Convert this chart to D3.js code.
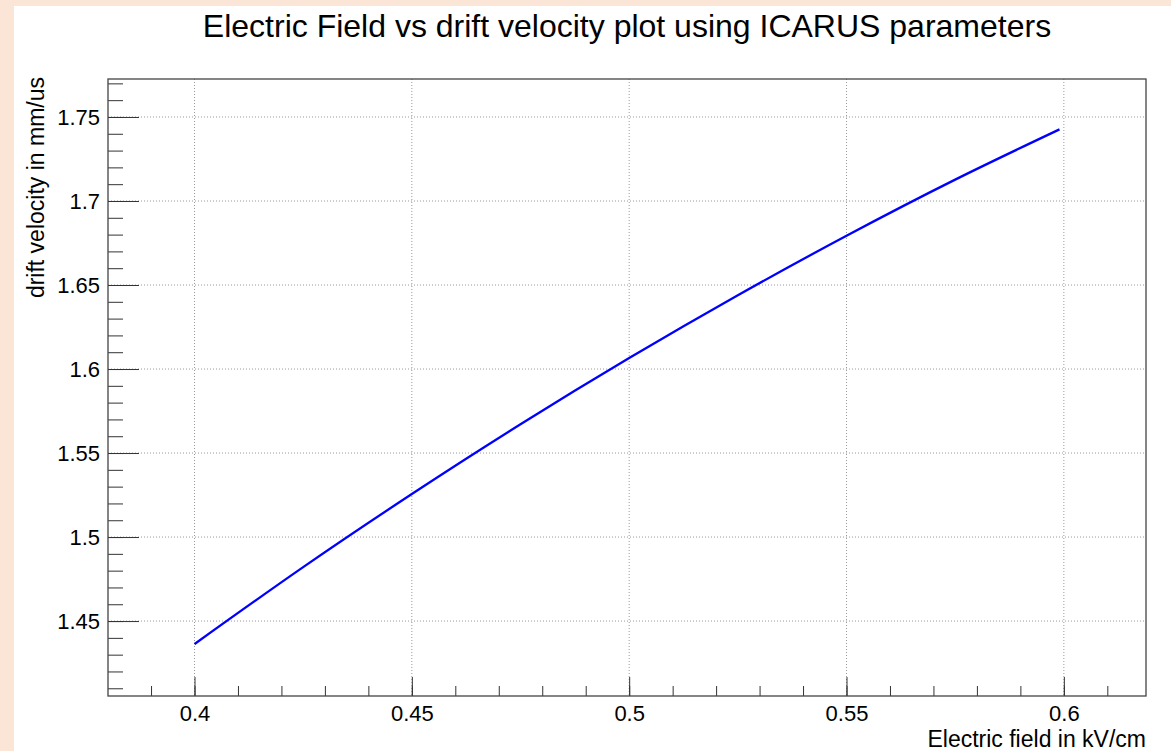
<!DOCTYPE html>
<html>
<head>
<meta charset="utf-8">
<script src="https://cdn.jsdelivr.net/npm/d3@7"></script>
<style>
  body { margin: 0; background: #fbe5d6; }
  svg { display: block; font-family: "Liberation Sans", Arial, sans-serif; }
</style>
</head>
<body>
<svg width="1171" height="751"></svg>
<script>
// Data (E field in kV/cm, drift velocity in mm/us)
const fieldValues = [0.400, 0.425, 0.450, 0.475, 0.500, 0.525, 0.550, 0.575, 0.599];
const velocityValues = [1.4363, 1.4821, 1.5256, 1.5671, 1.6065, 1.6439, 1.6793, 1.7127, 1.7426];

const xMajorTicks = [0.4, 0.45, 0.5, 0.55, 0.6];
const yMajorTicks = [1.45, 1.5, 1.55, 1.6, 1.65, 1.7, 1.75];
const xMinorTicks = d3.range(39, 62).map(d => d / 100);
const yMinorTicks = d3.range(141, 178).map(d => d / 100);

const titleText = "Electric Field vs drift velocity plot using ICARUS parameters";
const xTitle = "Electric field in kV/cm";
const yTitle = "drift velocity in mm/us";

const width = 1171, height = 751;
let frame = {left: 108, top: 79, right: 1146, bottom: 696};
let frameWidth = frame.right - frame.left,
    frameHeight = frame.bottom - frame.top;

const svg = d3.select("svg");

// white pad area (peach shows on top and left)
svg.append("rect")
    .attr("x", 14).attr("y", 6)
    .attr("width", width - 14).attr("height", height - 6)
    .attr("fill", "#ffffff");

const points = fieldValues.map((f, i) => ({E: f, v: velocityValues[i]}));

const x = d3.scaleLinear()
    .domain([0.3801, 0.6189])
    .range([0, frameWidth]);

const y = d3.scaleLinear()
    .domain([1.4054, 1.7726])
    .range([frameHeight, 0]);

const plot = svg.append("g")
    .attr("transform", `translate(${frame.left}, ${frame.top})`);

// Grid (dotted, major ticks only)
plot.append("g")
    .selectAll("line")
    .data(xMajorTicks)
    .enter().append("line")
    .attr("x1", d => x(d)).attr("x2", d => x(d))
    .attr("y1", 0).attr("y2", frameHeight)
    .attr("stroke", "#999")
    .attr("stroke-width", 1)
    .attr("stroke-dasharray", "1,2");

plot.append("g")
    .selectAll("line")
    .data(yMajorTicks)
    .enter().append("line")
    .attr("x1", 0).attr("x2", frameWidth)
    .attr("y1", d => y(d)).attr("y2", d => y(d))
    .attr("stroke", "#999")
    .attr("stroke-width", 1)
    .attr("stroke-dasharray", "1,2");

// X axis: minor + major ticks pointing into the frame
plot.append("g")
    .attr("transform", `translate(0, ${frameHeight})`)
    .call(d3.axisBottom(x).tickValues(xMinorTicks).tickSize(-10).tickSizeOuter(0).tickFormat(""))
    .call(g => g.select(".domain").remove())
    .call(g => g.selectAll("line").attr("stroke", "#333"));

plot.append("g")
    .attr("transform", `translate(0, ${frameHeight})`)
    .call(d3.axisBottom(x).tickValues(xMajorTicks).tickSize(-19).tickSizeOuter(0).tickPadding(9).tickFormat(d => String(d)))
    .call(g => g.select(".domain").remove())
    .call(g => g.selectAll("line").attr("stroke", "#333"))
    .call(g => g.selectAll("text").attr("font-size", "22px").attr("fill", "#000")
        .attr("font-family", "Liberation Sans, Arial, sans-serif"));

// Y axis
plot.append("g")
    .call(d3.axisLeft(y).tickValues(yMinorTicks).tickSize(-15).tickSizeOuter(0).tickFormat(""))
    .call(g => g.select(".domain").remove())
    .call(g => g.selectAll("line").attr("stroke", "#333"));

plot.append("g")
    .call(d3.axisLeft(y).tickValues(yMajorTicks).tickSize(-31).tickSizeOuter(0).tickPadding(8).tickFormat(d => String(d)))
    .call(g => g.select(".domain").remove())
    .call(g => g.selectAll("line").attr("stroke", "#333"))
    .call(g => g.selectAll("text").attr("font-size", "22px").attr("fill", "#000")
        .attr("font-family", "Liberation Sans, Arial, sans-serif"));

// Frame
plot.append("rect")
    .attr("x", 0).attr("y", 0)
    .attr("width", frameWidth).attr("height", frameHeight)
    .attr("fill", "none")
    .attr("stroke", "#444")
    .attr("stroke-width", 1.3);

// Curve
const line = d3.line()
    .x(d => x(d.E))
    .y(d => y(d.v))
    .curve(d3.curveMonotoneX);

plot.append("path")
    .datum(points)
    .attr("d", line)
    .attr("fill", "none")
    .attr("stroke", "#0000ff")
    .attr("stroke-width", 2.3);

// Title
svg.append("text")
    .attr("x", 627)
    .attr("y", 37)
    .attr("text-anchor", "middle")
    .attr("font-size", "32px")
    .attr("fill", "#000")
    .text(titleText);

// X title (right aligned to frame end)
svg.append("text")
    .attr("x", frame.right)
    .attr("y", 747)
    .attr("text-anchor", "end")
    .attr("font-size", "23px")
    .attr("fill", "#000")
    .text(xTitle);

// Y title (rotated, right aligned to top of frame)
svg.append("text")
    .attr("transform", `translate(44, ${frame.top - 2}) rotate(-90)`)
    .attr("text-anchor", "end")
    .attr("font-size", "23px")
    .attr("fill", "#000")
    .text(yTitle);
</script>
</body>
</html>
